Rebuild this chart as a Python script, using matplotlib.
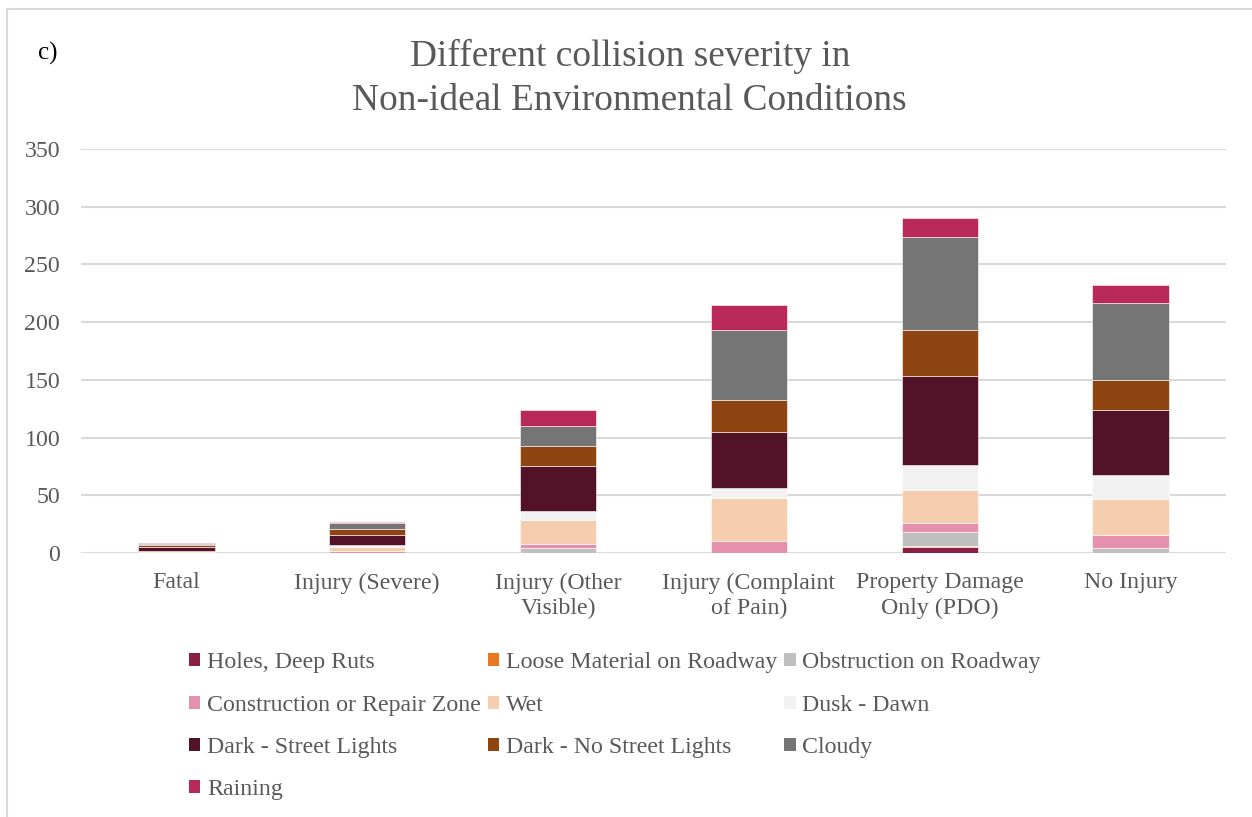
import matplotlib.pyplot as plt
from matplotlib.patches import Patch, Rectangle
import numpy as np

plt.rcParams['font.family'] = ['Liberation Serif', 'DejaVu Serif']

# Collision counts per severity level, one list per condition
categories = ['Fatal', 'Injury (Severe)', 'Injury (Other\nVisible)',
              'Injury (Complaint\nof Pain)', 'Property Damage\nOnly (PDO)', 'No Injury']

holes = [0, 0, 0, 0, 5, 0]
loose = [0, 0, 0, 0, 1, 0]
obstruction = [0, 0, 4, 0, 12, 4]
construction = [1, 2, 4, 10, 8, 12]
wet = [1, 3, 21, 38, 29, 31]
dusk = [0, 2, 7, 8, 21, 21]
dark_lights = [3, 9, 39, 49, 77, 56]
dark_no_lights = [2, 5, 18, 28, 40, 26]
cloudy = [1, 5, 17, 60, 81, 67]
raining = [1, 1, 14, 22, 16, 15]

series_names = ['Holes, Deep Ruts', 'Loose Material on Roadway', 'Obstruction on Roadway',
                'Construction or Repair Zone', 'Wet', 'Dusk - Dawn',
                'Dark - Street Lights', 'Dark - No Street Lights', 'Cloudy', 'Raining']
series = [holes, loose, obstruction, construction, wet, dusk,
          dark_lights, dark_no_lights, cloudy, raining]
colors = ['#8B1E45', '#E87722', '#BFBFBF', '#E591AD', '#F7CDB0', '#F2F2F2',
          '#521328', '#8F4511', '#757575', '#B8295A']

grey_text = '#595959'

fig = plt.figure(figsize=(12.52, 8.17), dpi=100)
ax = fig.add_axes([0.0647, 0.3231, 0.9145, 0.4945])

x = np.arange(len(categories))
bottom = np.zeros(len(categories))
handles = []
for name, vals, col in zip(series_names, series, colors):
    vals = np.array(vals, dtype=float)
    ax.bar(x, vals, 0.4, bottom=bottom, color=col, edgecolor='#FFFFFF',
           linewidth=0.4, zorder=3)
    bottom += vals
    handles.append(Patch(facecolor=col, edgecolor='none', label=name))

ax.set_xlim(-0.5, len(categories) - 0.5)
ax.set_ylim(0, 350)
ax.set_yticks(range(0, 351, 50))
ax.yaxis.grid(True, color='#D9D9D9', linewidth=1.5, zorder=0)
ax.set_axisbelow(True)
for s in ax.spines.values():
    s.set_visible(False)
ax.tick_params(axis='both', length=0, labelsize=17.2, colors=grey_text)
ax.tick_params(axis='y', pad=15)
ax.tick_params(axis='x', pad=14)
ax.set_xticks(x)
ax.set_xticklabels(categories, linespacing=1.25)

fig.text(0.503, 0.953, 'Different collision severity in\nNon-ideal Environmental Conditions',
         ha='center', va='top', fontsize=26.9, color=grey_text, linespacing=1.36)
fig.text(0.030, 0.935, 'c)', fontsize=18, color='black', va='center')

# legend entries reordered so they read across the rows
order = [0, 3, 6, 9, 1, 4, 7, 2, 5, 8]
fig.legend([handles[i] for i in order], [series_names[i] for i in order],
           loc='upper left', bbox_to_anchor=(0.151, 0.2015), ncol=3,
           frameon=False, fontsize=17.2, labelcolor=grey_text,
           handlelength=0.47, handleheight=0.47, handletextpad=0.28,
           columnspacing=0.3, labelspacing=0.89, borderpad=0, borderaxespad=0)

# thin border around the chart area
fig.patches.append(Rectangle((7 / 1252, -0.05), 1.2, (817 - 9) / 817 + 0.05,
                             transform=fig.transFigure, fill=False,
                             edgecolor='#D9D9D9', linewidth=1.5))

fig.savefig('out.png', dpi=100)
